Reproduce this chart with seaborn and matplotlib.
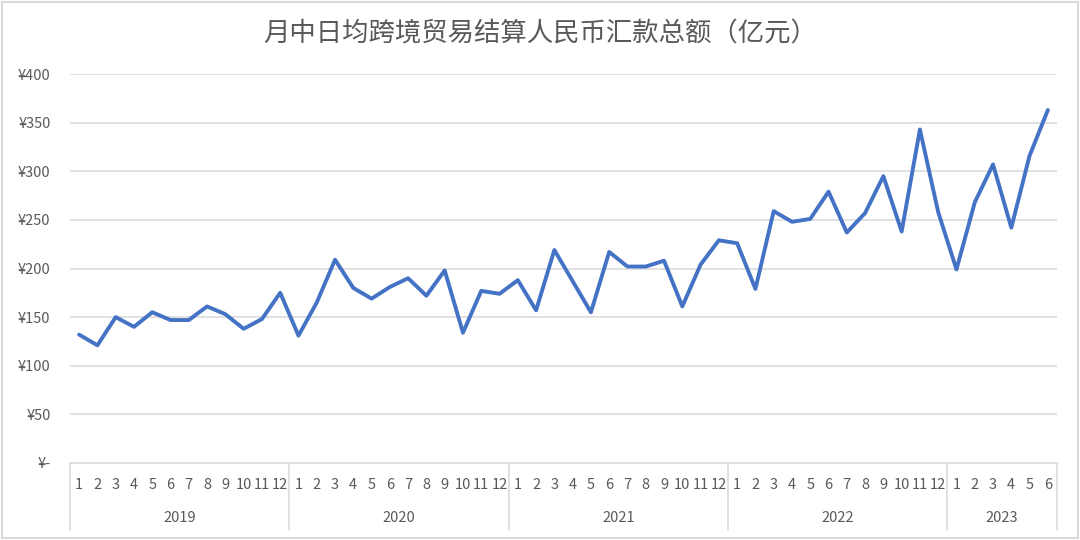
import matplotlib
matplotlib.use("Agg")
import matplotlib.pyplot as plt
import matplotlib.transforms as mtransforms
from matplotlib.patches import Rectangle
import seaborn as sns
import pandas as pd

# ---- data ----
years = ["2019", "2020", "2021", "2022", "2023"]
months_per_year = [12, 12, 12, 12, 6]
values_2019 = [132, 121, 150, 140, 155, 147, 147, 161, 153, 138, 148, 175]
values_2020 = [131, 165, 209, 180, 169, 181, 190, 172, 198, 134, 177, 174]
values_2021 = [188, 157, 219, 187, 155, 217, 202, 202, 208, 161, 204, 229]
values_2022 = [226, 179, 259, 248, 251, 279, 237, 257, 295, 238, 343, 258]
values_2023 = [199, 268, 307, 242, 316, 363]
y_ticks = [0, 50, 100, 150, 200, 250, 300, 350, 400]
y_tick_labels = ["¥-", "¥50", "¥100", "¥150", "¥200", "¥250", "¥300", "¥350", "¥400"]
title = "月中日均跨境贸易结算人民币汇款总额（亿元）"

series = values_2019 + values_2020 + values_2021 + values_2022 + values_2023
month_labels = []
year_col = []
for y, n in zip(years, months_per_year):
    for m in range(1, n + 1):
        month_labels.append(str(m))
        year_col.append(y)
df = pd.DataFrame({"idx": range(len(series)), "value": series,
                   "month": month_labels, "year": year_col})

sns.set_theme(style="white")
plt.rcParams["font.family"] = ["Noto Sans CJK SC", "DejaVu Sans"]

fig = plt.figure(figsize=(10.8, 5.4), dpi=100)
ax = fig.add_axes([70 / 1080, 1 - 463 / 540, 987 / 1080, 389 / 540])

grid_c = "#d9d9d9"
text_c = "#595959"

sns.lineplot(data=df, x="idx", y="value", ax=ax, color="#4472C4",
             linewidth=2.8, solid_joinstyle="round", solid_capstyle="round")

ax.set_xlim(-0.5, len(series) - 0.5)
ax.set_ylim(0, 400)
ax.set_yticks(y_ticks)
ax.set_yticklabels(y_tick_labels, color=text_c, fontsize=10.5)
ax.tick_params(axis="y", length=0, pad=14)
ax.set_xticks([])
ax.set_xlabel("")
ax.set_ylabel("")
for yv in y_ticks[1:]:
    ax.axhline(yv, color=grid_c, linewidth=1.1, zorder=0)
for s in ["top", "right", "left"]:
    ax.spines[s].set_visible(False)
ax.spines["bottom"].set_color(grid_c)
ax.spines["bottom"].set_linewidth(1.1)

# multi-level category axis
trans = mtransforms.blended_transform_factory(ax.transData, ax.transAxes)
for i, m in enumerate(month_labels):
    ax.text(i, -0.057, m, transform=trans, ha="center", va="center",
            fontsize=10.5, color=text_c, clip_on=False)
start = 0
bounds = [-0.5]
for y, n in zip(years, months_per_year):
    center = start + (n - 1) / 2
    ax.text(center, -0.142, y, transform=trans, ha="center", va="center",
            fontsize=10.5, color=text_c, clip_on=False)
    start += n
    bounds.append(start - 0.5)
for b in bounds:
    ax.plot([b, b], [0, -0.172], transform=trans, color=grid_c,
            linewidth=1.1, clip_on=False)

fig.text(0.5, 1 - 34 / 540, title, ha="center", va="center",
         fontsize=19, color=text_c)

fig.patches.append(Rectangle((0.002, 0.004), 0.996, 0.992, transform=fig.transFigure,
                             fill=False, edgecolor=grid_c, linewidth=1.5))

fig.savefig("out.png", dpi=100)
